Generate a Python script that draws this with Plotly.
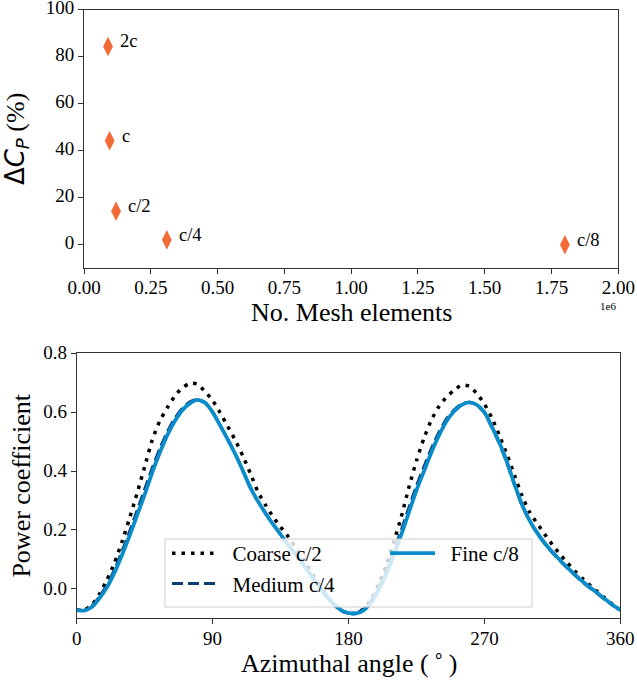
import plotly.graph_objects as go

# ---- mesh convergence study ----
mesh_labels = ["2c", "c", "c/2", "c/4", "c/8"]
mesh_elements = [90000, 96000, 120000, 310000, 1800000]
delta_cp = [84.3, 44.2, 14.3, 2.1, 0.0]

mesh_tickvals = [0, 250000, 500000, 750000, 1000000, 1250000, 1500000, 1750000, 2000000]
mesh_ticktext = ["0.00", "0.25", "0.50", "0.75", "1.00", "1.25", "1.50", "1.75", "2.00"]
dcp_tickvals = [0, 20, 40, 60, 80, 100]

# ---- power coefficient over one revolution ----
azimuth = list(range(0, 365, 5))
cp_coarse = [
    -0.072, -0.072, -0.055, -0.018, 0.030, 0.088, 0.160, 0.240, 0.325, 0.415,
    0.505, 0.570, 0.615, 0.655, 0.683, 0.698, 0.695, 0.670, 0.640, 0.598,
    0.552, 0.505, 0.452, 0.392, 0.330, 0.285, 0.245, 0.210, 0.178, 0.140,
    0.102, 0.060, 0.020, -0.018, -0.050, -0.073, -0.083, -0.082, -0.068, -0.035,
    0.015, 0.080, 0.160, 0.245, 0.345, 0.435, 0.512, 0.575, 0.620, 0.652,
    0.675, 0.692, 0.688, 0.663, 0.628, 0.580, 0.520, 0.455, 0.385, 0.315,
    0.260, 0.222, 0.185, 0.150, 0.118, 0.088, 0.060, 0.035, 0.012, -0.010,
    -0.032, -0.053, -0.072,
]
cp_medium = [
    -0.072, -0.073, -0.059, -0.027, 0.013, 0.065, 0.127, 0.195, 0.266, 0.338,
    0.410, 0.476, 0.533, 0.579, 0.613, 0.635, 0.644, 0.633, 0.600, 0.555,
    0.508, 0.458, 0.402, 0.345, 0.298, 0.257, 0.220, 0.185, 0.150, 0.116,
    0.083, 0.046, 0.010, -0.024, -0.052, -0.073, -0.083, -0.082, -0.070, -0.040,
    0.005, 0.060, 0.128, 0.200, 0.276, 0.350, 0.415, 0.478, 0.533, 0.578,
    0.608, 0.628, 0.634, 0.625, 0.598, 0.548, 0.492, 0.427, 0.352, 0.283,
    0.230, 0.188, 0.153, 0.123, 0.096, 0.070, 0.046, 0.023, 0.003, -0.017,
    -0.037, -0.056, -0.072,
]
cp_fine = [
    -0.072, -0.074, -0.062, -0.032, 0.005, 0.055, 0.115, 0.180, 0.250, 0.320,
    0.395, 0.462, 0.522, 0.570, 0.607, 0.630, 0.642, 0.632, 0.600, 0.555,
    0.508, 0.458, 0.402, 0.344, 0.298, 0.257, 0.220, 0.185, 0.150, 0.117,
    0.085, 0.048, 0.012, -0.022, -0.050, -0.072, -0.082, -0.083, -0.073, -0.045,
    -0.003, 0.050, 0.115, 0.185, 0.260, 0.335, 0.400, 0.465, 0.522, 0.570,
    0.603, 0.625, 0.633, 0.625, 0.600, 0.550, 0.495, 0.430, 0.355, 0.285,
    0.232, 0.190, 0.155, 0.125, 0.098, 0.072, 0.048, 0.025, 0.005, -0.015,
    -0.035, -0.055, -0.072,
]
series_names = ["Coarse c/2", "Medium c/4", "Fine c/8"]
azimuth_ticks = [0, 90, 180, 270, 360]
cp_ticks = [0.0, 0.2, 0.4, 0.6, 0.8]
cp_ticktext = ["0.0", "0.2", "0.4", "0.6", "0.8"]

SERIF = "Liberation Serif"
W, H = 637, 683
AXIS_COLOR = "#333333"
LEGEND_PAD = "\u2002"  # widens the gap between legend sample and label

# panel geometry in pixels (left, right, top, bottom)
TOP_BOX = (84, 618.3, 9.5, 268.3)
BOT_BOX = (76.7, 620.3, 353.3, 618.3)

fig = go.Figure()

# upper panel: relative change of Cp versus mesh size
fig.add_trace(go.Scatter(
    x=mesh_elements, y=delta_cp, mode="markers",
    marker=dict(symbol="diamond-tall", size=14, color="#F26A35", line=dict(width=0)),
    xaxis="x", yaxis="y", showlegend=False,
))
for xv, yv, lab in zip(mesh_elements, delta_cp, mesh_labels):
    fig.add_annotation(
        x=xv, y=yv, xref="x", yref="y", text=lab, showarrow=False,
        xanchor="left", yanchor="middle", xshift=10, yshift=5,
        font=dict(family=SERIF, size=18.5, color="black"),
    )

# lower panel: Cp against azimuth for the three meshes
fig.add_trace(go.Scatter(
    x=azimuth, y=cp_coarse, mode="lines", name=LEGEND_PAD + series_names[0],
    line=dict(color="black", width=3.5, dash="3.5px,6px", shape="spline", smoothing=0.6),
    xaxis="x2", yaxis="y2", legend="legend", legendrank=1,
))
fig.add_trace(go.Scatter(
    x=azimuth, y=cp_medium, mode="lines", name=LEGEND_PAD + series_names[1],
    line=dict(color="#0B3D70", width=3, dash="11px,5px", shape="spline", smoothing=0.6),
    xaxis="x2", yaxis="y2", legend="legend", legendrank=2,
))
fig.add_trace(go.Scatter(
    x=azimuth, y=cp_fine, mode="lines", name=LEGEND_PAD + series_names[2],
    line=dict(color="#0A8CCB", width=3.8, shape="spline", smoothing=0.6),
    xaxis="x2", yaxis="y2", legend="legend2",
))

tickfont = dict(family=SERIF, size=19, color="black")
titlefont = dict(family=SERIF, size=26, color="black")
common_axis = dict(
    showline=True, linecolor=AXIS_COLOR, linewidth=1, mirror=True,
    ticks="outside", ticklen=5, tickwidth=1, tickcolor=AXIS_COLOR,
    showgrid=False, zeroline=False, tickfont=tickfont, automargin=False,
    ticklabeloverflow="allow",
)

legend_font = dict(family=SERIF, size=21, color="black")

fig.update_layout(
    width=W, height=H,
    margin=dict(l=0, r=0, t=0, b=0, autoexpand=False),
    paper_bgcolor="white", plot_bgcolor="white",
    font=dict(family=SERIF, color="black"),
    xaxis=dict(
        domain=[TOP_BOX[0] / W, TOP_BOX[1] / W], anchor="y", range=[0, 2000000],
        tickmode="array", tickvals=mesh_tickvals, ticktext=mesh_ticktext,
        ticklabelstandoff=-3,
        **common_axis,
    ),
    yaxis=dict(
        domain=[1 - TOP_BOX[3] / H, 1 - TOP_BOX[2] / H], anchor="x", range=[-10, 100],
        tickmode="array", tickvals=dcp_tickvals, ticklabelshift=-2,
        title=dict(
            text="<span style='font-family:DejaVu Sans'>Δ<i>C</i><sub><i>P</i></sub></span> (%)",
            font=titlefont, standoff=17,
        ),
        **common_axis,
    ),
    xaxis2=dict(
        domain=[BOT_BOX[0] / W, BOT_BOX[1] / W], anchor="y2", range=[0, 360],
        tickmode="array", tickvals=azimuth_ticks,
        ticklabelstandoff=-2,
        **common_axis,
    ),
    yaxis2=dict(
        domain=[1 - BOT_BOX[3] / H, 1 - BOT_BOX[2] / H], anchor="x2", range=[-0.1, 0.8],
        tickmode="array", tickvals=cp_ticks, ticktext=cp_ticktext, ticklabelshift=-1,
        title=dict(text="Power coefficient", font=titlefont, standoff=5),
        **common_axis,
    ),
    legend=dict(
        x=167 / W, y=1 - 533 / H, xanchor="left", yanchor="top",
        bgcolor="rgba(0,0,0,0)", borderwidth=0, itemwidth=45,
        font=legend_font, traceorder="normal",
    ),
    legend2=dict(
        x=385 / W, y=1 - 533 / H, xanchor="left", yanchor="top",
        bgcolor="rgba(0,0,0,0)", borderwidth=0, itemwidth=45,
        font=legend_font,
    ),
)

# x-axis titles placed just below each panel's tick labels
fig.add_annotation(
    x=(TOP_BOX[0] + TOP_BOX[1]) / 2 / W, y=1 - 312 / H, xref="paper", yref="paper",
    text="No. Mesh elements", showarrow=False, xanchor="center", yanchor="middle",
    font=titlefont,
)
fig.add_annotation(
    x=(BOT_BOX[0] + BOT_BOX[1]) / 2 / W, y=1 - 661 / H, xref="paper", yref="paper",
    text="Azimuthal angle (<sup> ∘ </sup>)", showarrow=False, xanchor="center",
    yanchor="middle", font=titlefont,
)

# translucent frame behind the two legend columns
fig.add_shape(
    type="rect", xref="paper", yref="paper", layer="above",
    x0=165 / W, x1=532 / W, y0=1 - 607 / H, y1=1 - 539 / H,
    fillcolor="rgba(255,255,255,0.8)", line=dict(color="#cccccc", width=1),
)

# scientific offset for the mesh axis
fig.add_annotation(
    x=TOP_BOX[1] / W, y=1 - 306 / H, xref="paper", yref="paper", text="1e6",
    showarrow=False, xanchor="right", yanchor="middle",
    font=dict(family=SERIF, size=11, color="black"),
)

fig.write_html("out.html")
